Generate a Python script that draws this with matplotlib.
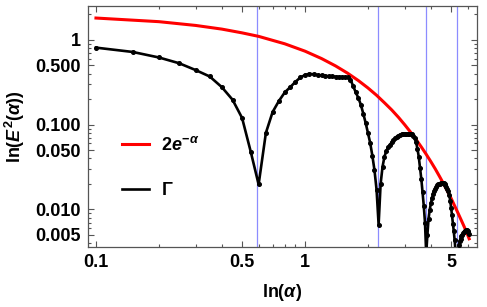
import numpy as np
import matplotlib
matplotlib.use("Agg")
import matplotlib.pyplot as plt
from matplotlib.ticker import FixedLocator, FixedFormatter, NullFormatter

plt.rcParams['font.family'] = ['Liberation Sans', 'DejaVu Sans']
plt.rcParams['font.weight'] = 'bold'
plt.rcParams['mathtext.fontset'] = 'custom'
plt.rcParams['mathtext.rm'] = 'Liberation Sans:bold'
plt.rcParams['mathtext.it'] = 'Liberation Sans:bold:italic'
plt.rcParams['mathtext.bf'] = 'Liberation Sans:bold'

# Gamma data, sampled every 0.05 in alpha
alpha = np.round(np.arange(0.10, 6.1001, 0.05), 2)
gamma = [
    0.81, 0.72, 0.62, 0.53, 0.44, 0.37, 0.277, 0.197, 0.12, 0.048,          # 0.10 - 0.55
    0.0197, 0.08, 0.141, 0.19, 0.24, 0.277, 0.32, 0.36, 0.385, 0.398,       # 0.60 - 1.05
    0.392, 0.385, 0.38, 0.376, 0.372, 0.37, 0.368, 0.366, 0.365, 0.364,     # 1.10 - 1.55
    0.363, 0.34, 0.285, 0.24, 0.206, 0.172, 0.135, 0.105, 0.08, 0.061,      # 1.60 - 2.05
    0.043, 0.029, 0.017, 0.0066, 0.02, 0.032, 0.042, 0.049, 0.054, 0.058,   # 2.10 - 2.55
    0.062, 0.066, 0.069, 0.072, 0.074, 0.076, 0.077, 0.078, 0.078, 0.078,   # 2.60 - 3.05
    0.078, 0.078, 0.078, 0.077, 0.074, 0.070, 0.062, 0.052, 0.042, 0.031,   # 3.10 - 3.55
    0.023, 0.016, 0.011, 0.007, 0.003, 0.005, 0.0078, 0.0098, 0.0118, 0.0135,  # 3.60 - 4.05
    0.015, 0.0163, 0.0175, 0.0185, 0.0193, 0.0198, 0.0202, 0.0205, 0.0206, 0.0206,  # 4.10 - 4.55
    0.0204, 0.0200, 0.0194, 0.0186, 0.0176, 0.0165, 0.0148, 0.0127, 0.0105, 0.0085,  # 4.60 - 5.05
    0.0068, 0.0055, 0.0043, 0.0032, 0.0022, 0.0015, 0.0030, 0.0038, 0.0042, 0.0045,  # 5.10 - 5.55
    0.0048, 0.0050, 0.0052, 0.0054, 0.0055, 0.0056, 0.0057, 0.0057, 0.0056, 0.0054,  # 5.60 - 6.05
    0.0051,                                                                   # 6.10
]

# reference curve 2e^-alpha
red_alpha = [0.1, 0.2, 0.3, 0.4, 0.5, 0.6, 0.8, 1.0, 1.2, 1.4, 1.6, 1.8, 2.0, 2.2, 2.4,
             2.6, 2.8, 3.0, 3.2, 3.4, 3.6, 3.8, 4.0, 4.2, 4.4, 4.6, 4.8, 5.0, 5.2, 5.4,
             5.6, 5.8, 6.0, 6.1]
red_val = [1.81, 1.64, 1.48, 1.34, 1.21, 1.10, 0.899, 0.736, 0.602, 0.493, 0.404, 0.331,
           0.271, 0.222, 0.181, 0.149, 0.122, 0.0996, 0.0815, 0.0667, 0.0546, 0.0447,
           0.0366, 0.030, 0.0245, 0.0201, 0.0165, 0.0135, 0.0110, 0.0090, 0.0074,
           0.0061, 0.0050, 0.0045]

# special points marked with vertical lines
vlines = [0.59, 2.24, 3.81, 5.36]

xticks = [0.1, 0.5, 1, 5]
xticklabels = ['0.1', '0.5', '1', '5']
yticks = [0.005, 0.01, 0.05, 0.1, 0.5, 1]
yticklabels = ['0.005', '0.010', '0.050', '0.100', '0.500', '1']

fig = plt.figure(figsize=(4.87, 3.07), dpi=100)
ax = fig.add_axes([88/487, 1 - 247/307, (477 - 88)/487, (247 - 6)/307])

for v in vlines:
    ax.axvline(v, color='#8c8cff', lw=0.9, zorder=1)

ax.plot(red_alpha, red_val, color='#ff0000', lw=2.2, label=r'$2e^{-\alpha}$', zorder=3)
ax.plot(alpha, gamma, color='black', lw=1.9, label=r'$\Gamma$', zorder=4)
ax.plot(alpha, gamma, 'o', color='black', ms=2.6, zorder=5)

ax.set_xscale('log')
ax.set_yscale('log')
ax.set_xlim(0.0916, 6.65)
ax.set_ylim(0.0036, 2.51)

ax.xaxis.set_major_locator(FixedLocator(xticks))
ax.xaxis.set_major_formatter(FixedFormatter(xticklabels))
ax.xaxis.set_minor_locator(FixedLocator([0.2, 0.3, 0.4, 0.6, 0.7, 0.8, 0.9, 2, 3, 4, 6]))
ax.xaxis.set_minor_formatter(NullFormatter())
ax.yaxis.set_major_locator(FixedLocator(yticks))
ax.yaxis.set_major_formatter(FixedFormatter(yticklabels))
ax.yaxis.set_minor_locator(FixedLocator([0.004, 0.006, 0.007, 0.008, 0.009, 0.02, 0.03, 0.04,
                                         0.06, 0.07, 0.08, 0.09, 0.2, 0.3, 0.4, 0.6, 0.7,
                                         0.8, 0.9, 2]))
ax.yaxis.set_minor_formatter(NullFormatter())

ax.tick_params(which='both', direction='in', top=True, right=True, color='#555555',
               width=0.8, labelsize=13, pad=5)
ax.tick_params(which='major', length=4)
ax.tick_params(which='minor', length=2.5)
for s in ax.spines.values():
    s.set_color('#555555')
    s.set_linewidth(0.9)

ax.set_xlabel(r'$\mathrm{ln}(\alpha)$', fontsize=13, labelpad=8)
ax.set_ylabel(r'$\mathrm{ln}(E^2(\alpha))$', fontsize=13, labelpad=6)

ax.legend(loc='upper left', bbox_to_anchor=(0.07, 0.49), frameon=False, fontsize=13,
          handlelength=1.45, handletextpad=0.7, labelspacing=1.55, borderaxespad=0)

fig.savefig('out.png', dpi=100)
